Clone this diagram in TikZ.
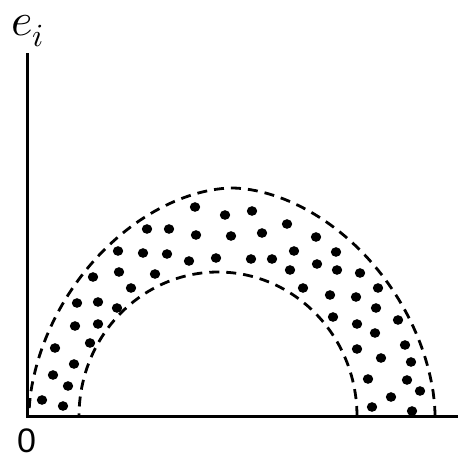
\documentclass[tikz,border=0pt]{standalone}
\usepackage{fontspec}
\usepackage{unicode-math}
\setmathfont{Latin Modern Math}
\newfontfamily\digitfont{Liberation Sans}
\begin{document}
\begin{tikzpicture}[x=1pt,y=-1pt,
  axis/.style={line width=3pt, line cap=butt},
  band/.style={line width=2.8pt, dash pattern=on 10pt off 7pt},
  grain/.style={fill=black}]
\useasboundingbox (0,0) rectangle (458,458);
% axes
\coordinate (ytop) at (27,53);
\coordinate (orig0) at (27,416);
\coordinate (xend) at (458,416);
\draw[axis] (ytop) -- (orig0) -- (xend);
% outer dashed boundary (slightly squarish half-ellipse)
\draw[band] plot[domain=0:180, samples=120, variable=\t]
  ({232 + 203*cos(\t)*pow(abs(cos(\t))+0.000001,0.111)},
   {416 - 228*pow(abs(sin(\t))+0.000001,1.111)});
% inner dashed boundary
\draw[band] plot[domain=0:180, samples=100, variable=\t]
  ({218 + 139*cos(\t)}, {416 - 144*sin(\t)});
% dots
\foreach \p in {
 (195,207),(225,215),(252,211),(287,224),
 (147,229),(169,229),(196,235),(231,236),(262,233),
 (118,251),(143,253),(167,254),(189,261),(216,258),(251,259),(272,259),(294,251),
 (93,277),(119,272),(155,274),(290,270),
 (131,288),
 (77,303),(98,302),(117,308),
 (75,326),(98,324),
 (90,343),(55,348),
 (74,364),(53,375),(68,386),(42,400),(63,406),
 (316,237),(336,252),(317,264),(337,270),(360,273),(303,288),(330,295),(356,297),
 (378,288),(376,308),(333,317),(398,320),(357,324),(375,333),(405,345),(357,349),
 (381,358),(411,362),(368,379),(407,380),(420,391),(391,397),(372,407),(412,411)}
  \fill[grain] \p ellipse[x radius=5.2pt, y radius=4.8pt];
% labels
\node[anchor=base west, inner sep=0pt, font=\fontsize{46}{46}\selectfont] (ylab) at (11,35) {$e_i$};
\node[anchor=base west, inner sep=0pt, font=\fontsize{34}{34}\selectfont\digitfont] (olab) at (17,452) {0};
\end{tikzpicture}
\end{document}
